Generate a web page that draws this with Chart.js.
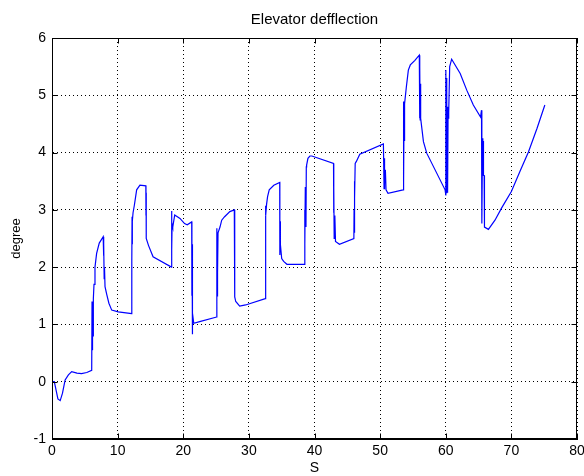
<!DOCTYPE html>
<html><head><meta charset="utf-8">
<script src="https://cdn.jsdelivr.net/npm/chart.js@4"></script>
<style>html,body{margin:0;padding:0;background:#fff}canvas{display:block}</style>
</head><body>
<canvas id="c" width="584" height="476"></canvas>
<script>
const titleText = 'Elevator defflection';
const xLabel = 'S';
const yLabel = 'degree';
const xTicks = [0, 10, 20, 30, 40, 50, 60, 70, 80];
const yTicks = [-1, 0, 1, 2, 3, 4, 5, 6];

const sValues = [
  0, 0.35, 0.9, 1.25, 1.6, 2.0, 2.5, 3.0, 3.8, 4.5, 5.3, 6.05,
  6.1, 6.15, 6.2, 6.25, 6.3, 6.4, 6.55, 6.8, 7.2, 7.8,
  7.85, 7.9, 7.95, 8.0, 8.08, 8.33, 8.67, 9.1, 10.1, 12.14,
  12.16, 12.2, 12.22, 12.26, 12.35, 12.55, 12.9, 13.4, 14.3,
  14.32, 14.34, 14.36, 14.7, 15.4, 18.2,
  18.22, 18.26, 18.3, 18.4, 18.7, 19.5, 20.2, 20.6, 21.29,
  21.32, 21.34, 21.36, 21.4, 21.45, 21.6, 22.5, 25.09,
  25.12, 25.16, 25.2, 25.25, 25.3, 25.6, 25.86, 26.3, 27.1, 27.78,
  27.82, 27.84, 27.87, 28.0, 28.6, 29.5, 32.5,
  32.52, 32.55, 32.6, 32.7, 32.85, 33.1, 33.8, 34.7,
  34.72, 34.75, 34.8, 35.0, 35.3, 35.8, 38.45,
  38.5, 38.55, 38.6, 38.7, 38.75, 38.8, 39.0, 39.3, 39.6, 42.9,
  42.92, 42.95, 43.0, 43.1, 43.2, 43.8, 46.0,
  46.03, 46.06, 46.1, 46.15, 46.2, 46.4, 46.9, 50.5,
  50.6, 50.65, 50.7, 50.8, 50.9, 51.2, 53.5,
  53.55, 53.6, 53.65, 53.7, 53.75, 54.0, 54.3, 54.6, 55.3, 55.97,
  56.02, 56.05, 56.1, 56.15, 56.2, 56.6, 57.1, 59.9,
  60.0, 60.03, 60.08, 60.12, 60.18, 60.22, 60.28, 60.35, 60.45, 60.6, 60.9,
  62.2, 63.2, 64.2, 65.3, 65.45,
  65.5, 65.6, 65.65, 65.7, 65.75, 65.85, 65.9, 66.5, 67.5, 68.5, 70.0, 71.3, 72.6, 73.9, 75.1
];
const deflection = [
  0, 0, -0.3, -0.33, -0.2, 0.03, 0.12, 0.175, 0.15, 0.14, 0.16, 0.2,
  1.4, 0.55, 1.35, 0.8, 1.45, 1.7, 2.0, 2.24, 2.42, 2.53,
  2.2, 2.4, 1.8, 2.0, 1.66, 1.53, 1.37, 1.25, 1.22, 1.19,
  2.1, 2.88, 2.4, 2.8, 2.95, 3.08, 3.35, 3.43, 3.42,
  2.9, 3.3, 2.5, 2.38, 2.18, 2.0,
  2.98, 2.3, 2.75, 2.7, 2.91, 2.85, 2.76, 2.74, 2.79,
  1.5, 2.4, 0.83, 1.6, 1.2, 1.02, 1.05, 1.13,
  2.68, 1.5, 2.2, 1.9, 2.6, 2.7, 2.82, 2.88, 2.97, 3.0,
  2.0, 2.55, 1.48, 1.4, 1.32, 1.34, 1.45,
  3.07, 2.1, 2.9, 3.1, 3.23, 3.35, 3.43, 3.48,
  2.21, 2.8, 2.4, 2.15, 2.1, 2.05, 2.05,
  3.0, 2.4, 3.4, 2.7, 3.75, 3.78, 3.9, 3.94, 3.94, 3.81,
  2.95, 3.4, 2.5, 2.9, 2.45, 2.4, 2.5,
  3.0, 2.6, 3.5, 3.2, 3.81, 3.85, 3.97, 4.15,
  3.37, 3.9, 3.45, 3.7, 3.35, 3.29, 3.35,
  4.89, 3.5, 4.8, 4.2, 4.85, 5.15, 5.44, 5.53, 5.61, 5.70,
  4.6, 5.5, 4.57, 5.2, 4.6, 4.19, 3.99, 3.35,
  3.25, 5.44, 3.3, 5.3, 3.4, 4.8, 3.3, 4.6, 4.7, 5.5, 5.63,
  5.38, 5.09, 4.83, 4.62, 4.74,
  2.76, 4.25, 3.6, 4.2, 3.6, 3.6, 2.7, 2.66, 2.82, 3.03, 3.32, 3.67, 4.01, 4.42, 4.83
];

const points = sValues.map((s, i) => ({x: s, y: deflection[i]}));
const FONT = "'Liberation Sans', Arial, Helvetica, sans-serif";

const boxPlugin = {
  id: 'matlabBox',
  afterDatasetsDraw(chart) {
    const {ctx, chartArea: a, scales} = chart;
    const L = Math.round(a.left) + 0.5, R = Math.round(a.right) - 0.5;
    const T = Math.round(a.top) + 0.5, B = Math.round(a.bottom) - 0.5;
    ctx.save();
    ctx.strokeStyle = '#000';
    ctx.lineWidth = 1;
    ctx.setLineDash([]);
    ctx.strokeRect(L, T, R - L, B - T);
    const tl = 5;
    ctx.beginPath();
    scales.x.ticks.forEach(t => {
      const px = Math.round(scales.x.getPixelForValue(t.value)) + 0.5;
      ctx.moveTo(px, B); ctx.lineTo(px, B - tl);
      ctx.moveTo(px, T); ctx.lineTo(px, T + tl);
    });
    scales.y.ticks.forEach(t => {
      const py = Math.round(scales.y.getPixelForValue(t.value)) + 0.5;
      ctx.moveTo(L, py); ctx.lineTo(L + tl, py);
      ctx.moveTo(R, py); ctx.lineTo(R - tl, py);
    });
    ctx.stroke();
    ctx.restore();
  }
};

new Chart(document.getElementById('c'), {
  type: 'line',
  data: {
    datasets: [{
      data: points,
      borderColor: 'rgb(0,0,255)',
      borderWidth: 1.2,
      pointRadius: 0,
      tension: 0,
      fill: false
    }]
  },
  options: {
    responsive: false,
    animation: false,
    devicePixelRatio: 1,
    layout: {padding: {left: 0, right: 7, top: 0, bottom: 0}},
    plugins: {
      legend: {display: false},
      tooltip: {enabled: false},
      title: {
        display: true,
        text: titleText,
        fullSize: false,
        color: '#000',
        font: {family: FONT, size: 15, weight: 'normal'},
        padding: {top: 11, bottom: 9}
      }
    },
    scales: {
      x: {
        type: 'linear',
        min: xTicks[0], max: xTicks[xTicks.length - 1],
        afterBuildTicks(s) { s.ticks = xTicks.map(v => ({value: v})); },
        afterFit(s) { s.height = 37; s.paddingLeft = 0; s.paddingRight = 0; },
        ticks: {color: '#000', font: {family: FONT, size: 14}, padding: 4, maxRotation: 0, autoSkip: false},
        grid: {color: '#000', lineWidth: 1, drawTicks: false},
        border: {display: true, color: '#000', width: 1, dash: [1, 3]},
        title: {display: true, text: xLabel, color: '#000', font: {family: FONT, size: 14}, padding: {top: 0, bottom: -1}}
      },
      y: {
        type: 'linear',
        min: yTicks[0], max: yTicks[yTicks.length - 1],
        afterBuildTicks(s) { s.ticks = yTicks.map(v => ({value: v})); },
        afterFit(s) { s.width = 52; s.paddingTop = 0; s.paddingBottom = 0; },
        ticks: {color: '#000', font: {family: FONT, size: 14}, padding: 6, autoSkip: false},
        grid: {color: '#000', lineWidth: 1, drawTicks: false},
        border: {display: true, color: '#000', width: 1, dash: [1, 3]},
        title: {display: true, text: yLabel, color: '#000', font: {family: FONT, size: 13}, padding: {top: 9, bottom: 0}}
      }
    }
  },
  plugins: [boxPlugin]
});
</script>
</body></html>
